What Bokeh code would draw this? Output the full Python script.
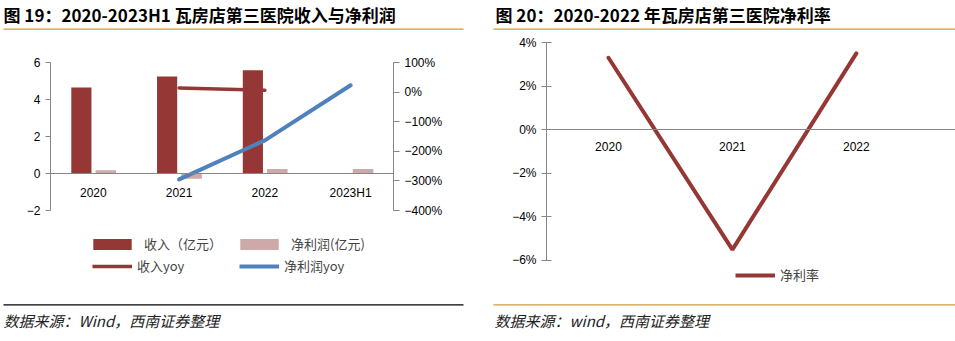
from bokeh.plotting import figure
from bokeh.models import (Range1d, FactorRange, LinearAxis, FixedTicker, Label,
                          BoxAnnotation, Legend, LegendItem, ColumnDataSource)
from bokeh.transform import dodge
from bokeh.layouts import row, column
from bokeh.embed import file_html
from bokeh.resources import INLINE

NAN = float("nan")

# ---------------- data ----------------
years1 = ["2020", "2021", "2022", "2023H1"]
revenue = [4.65, 5.25, 5.58, NAN]          # 收入（亿元）
net_profit = [0.18, -0.29, 0.25, 0.25]     # 净利润(亿元)
revenue_yoy = [NAN, 14, 6, NAN]            # 收入yoy (%)
profit_yoy = [NAN, -295, -163, 23]         # 净利润yoy (%)
left_ticks = [-2, 0, 2, 4, 6]
right_ticks = [-400, -300, -200, -100, 0, 100]

years2 = ["2020", "2021", "2022"]
net_margin = [3.3, -5.5, 3.5]              # 净利率 (%)
margin_ticks = [-6, -4, -2, 0, 2, 4]

title1 = "图 19：2020-2023H1 瓦房店第三医院收入与净利润"
title2 = "图 20：2020-2022 年瓦房店第三医院净利率"
source1 = "数据来源：Wind，西南证券整理"
source2 = "数据来源：wind，西南证券整理"

# ---------------- style ----------------
RED = "#953735"
PINK = "#CDA9A9"
BLUE = "#4F81BD"
GOLD = "#D09A3C"
GRAY = "#868686"
CJK = "Noto Sans CJK SC"
LAT = "Liberation Sans"


def minus(s):
    return s.replace("-", "\u2212")


def style_axis(ax, tin=0, tout=5):
    ax.axis_line_color = GRAY
    ax.axis_line_width = 1
    ax.major_tick_line_color = GRAY
    ax.major_tick_in = tin
    ax.major_tick_out = tout
    ax.minor_tick_line_color = None
    ax.major_label_text_font = LAT
    ax.major_label_text_font_size = "12px"
    ax.major_label_text_color = "#000000"


def blank(w, h):
    """A decoration figure whose data coordinates equal its pixel coordinates."""
    f = figure(width=w, height=h, x_range=Range1d(0, w), y_range=Range1d(h, 0),
               x_axis_location=None, y_axis_location=None, min_border=0,
               output_backend="svg", toolbar_location=None, title=None)
    f.outline_line_color = None
    f.grid.visible = False
    f.frame_align = False
    f.border_fill_color = "white"
    return f


def hrule(f, x0, x1, y0, y1, color):
    f.add_layout(BoxAnnotation(left=x0, right=x1, top=y0, bottom=y1,
                               fill_color=color, fill_alpha=1, line_color=None))


def text(f, x, y, s, size, style="normal", color="#000000"):
    f.add_layout(Label(x=x, y=y, text=s, text_font=CJK, text_font_size=size,
                       text_font_style=style, text_baseline="middle", text_color=color))


def chart_fig(w, h, fl, fr, ft, fb, **kw):
    f = figure(width=w, height=h, output_backend="svg", toolbar_location=None, title=None,
               min_border_left=fl, min_border_right=w - fr,
               min_border_top=ft, min_border_bottom=h - fb, **kw)
    f.outline_line_color = None
    f.border_fill_color = "white"
    f.xgrid.grid_line_color = None
    f.ygrid.grid_line_color = None
    f.frame_align = False
    return f


# ================= left panel =================
W1 = 480
HEAD = 35
C1_BOTTOM = 232           # canvas y where the left chart figure ends
H1 = C1_BOTTOM - HEAD
F1_TOP, F1_BOT = 62 - HEAD, 210 - HEAD

head1 = blank(W1, HEAD)
text(head1, 3, 14, title1, "17px", "bold")
hrule(head1, 3, 463, 28, 29.3, GOLD)

p1 = chart_fig(W1, H1, 50, 393, F1_TOP, F1_BOT,
               x_range=FactorRange(*years1), y_range=Range1d(-2, 6))
p1.extra_y_ranges = {"pct": Range1d(-400, 100)}

src1 = ColumnDataSource(dict(x=years1, rev=revenue, np=net_profit,
                             ryoy=revenue_yoy, pyoy=profit_yoy))
p1.vbar(x=dodge("x", -0.14, range=p1.x_range), top="rev", bottom=0, width=0.235,
        source=src1, fill_color=RED, line_color=None)
p1.vbar(x=dodge("x", 0.145, range=p1.x_range), top="np", bottom=0, width=0.24,
        source=src1, fill_color=PINK, line_color=None)
p1.line(x="x", y="ryoy", source=src1, y_range_name="pct", line_color=RED,
        line_width=3.5, line_cap="round")
p1.line(x="x", y="pyoy", source=src1, y_range_name="pct", line_color=BLUE,
        line_width=4, line_cap="round")

xa = p1.xaxis[0]
style_axis(xa, 0, 0)
xa.major_tick_line_color = None
xa.fixed_location = 0
xa.major_label_standoff = 12

ya = p1.yaxis[0]
style_axis(ya, 0, 5)
ya.ticker = FixedTicker(ticks=left_ticks)
ya.major_label_overrides = {t: minus(str(t)) for t in left_ticks}

ya2 = LinearAxis(y_range_name="pct", ticker=FixedTicker(ticks=right_ticks))
style_axis(ya2, 0, 6)
ya2.major_label_overrides = {t: minus(f"{t}%") for t in right_ticks}
p1.add_layout(ya2, "right")

FOOT1 = 341 - C1_BOTTOM
foot1 = blank(W1, FOOT1)
# legend proxies (one empty NaN row each, nothing visible is drawn)
g_rev = foot1.vbar(x=[NAN], top=[NAN], width=1, fill_color=RED, line_color=None)
g_np = foot1.vbar(x=[NAN], top=[NAN], width=1, fill_color=PINK, line_color=None)
g_ryoy = foot1.line(x=[NAN], y=[NAN], line_color=RED, line_width=3.5)
g_pyoy = foot1.line(x=[NAN], y=[NAN], line_color=BLUE, line_width=4)

leg_common = dict(orientation="horizontal", glyph_height=14, padding=0, margin=0,
                  border_line_color=None, background_fill_alpha=0,
                  label_text_font=CJK, label_text_font_size="13px", label_height=14)
# legend location: screen units from the footer's bottom-left corner (y upward)
foot1.add_layout(Legend(items=[LegendItem(label="收入（亿元）", renderers=[g_rev]),
                               LegendItem(label="净利润(亿元)", renderers=[g_np])],
                        location=(88, FOOT1 - 21), glyph_width=48, label_standoff=8,
                        label_width=86, spacing=5, **leg_common))
foot1.add_layout(Legend(items=[LegendItem(label="收入yoy", renderers=[g_ryoy]),
                               LegendItem(label="净利润yoy", renderers=[g_pyoy])],
                        location=(92, FOOT1 - 43), glyph_width=40, label_standoff=5,
                        label_width=97, spacing=5, **leg_common))
hrule(foot1, 3, 463, 303.7 - C1_BOTTOM, 305 - C1_BOTTOM, "#000000")
text(foot1, 3, 320 - C1_BOTTOM, source1, "15px", "italic", "#222222")

left = column(head1, p1, foot1, spacing=0)

# ================= right panel =================
W2 = 475
C2_BOTTOM = 266
H2 = C2_BOTTOM - HEAD
F2_TOP, F2_BOT = 42 - HEAD, 260 - HEAD

head2 = blank(W2, HEAD)
text(head2, 15, 14, title2, "17px", "bold")
hrule(head2, 13, 475, 28, 29.3, GOLD)

p2 = chart_fig(W2, H2, 66, 475, F2_TOP, F2_BOT,
               x_range=Range1d(0, 3.3), y_range=Range1d(-6, 4))

xpos2 = [i + 0.5 for i in range(len(years2))]
src2 = ColumnDataSource(dict(x=xpos2, m=net_margin))
p2.line(x="x", y="m", source=src2, line_color=RED, line_width=4, line_cap="round")

xb = p2.xaxis[0]
style_axis(xb, 0, 0)
xb.major_tick_line_color = None
xb.fixed_location = 0
xb.ticker = FixedTicker(ticks=xpos2)
xb.major_label_overrides = {x: y for x, y in zip(xpos2, years2)}
xb.major_label_standoff = 12

yb = p2.yaxis[0]
style_axis(yb, 5, 5)
yb.ticker = FixedTicker(ticks=margin_ticks)
yb.major_label_overrides = {t: minus(f"{t}%") for t in margin_ticks}

FOOT2 = 341 - C2_BOTTOM
foot2 = blank(W2, FOOT2)
g_m = foot2.line(x=[NAN], y=[NAN], line_color=RED, line_width=4)
foot2.add_layout(Legend(items=[LegendItem(label="净利率", renderers=[g_m])],
                        location=(735 - 480, FOOT2 - 18), glyph_width=40, label_standoff=5,
                        spacing=0, **leg_common))
hrule(foot2, 13, 475, 303.7 - C2_BOTTOM, 305 - C2_BOTTOM, GOLD)
text(foot2, 14, 320 - C2_BOTTOM, source2, "15px", "italic", "#222222")

right = column(head2, p2, foot2, spacing=0)

layout = row(left, right, spacing=0)
open("out.html", "w").write(file_html(layout, INLINE))
